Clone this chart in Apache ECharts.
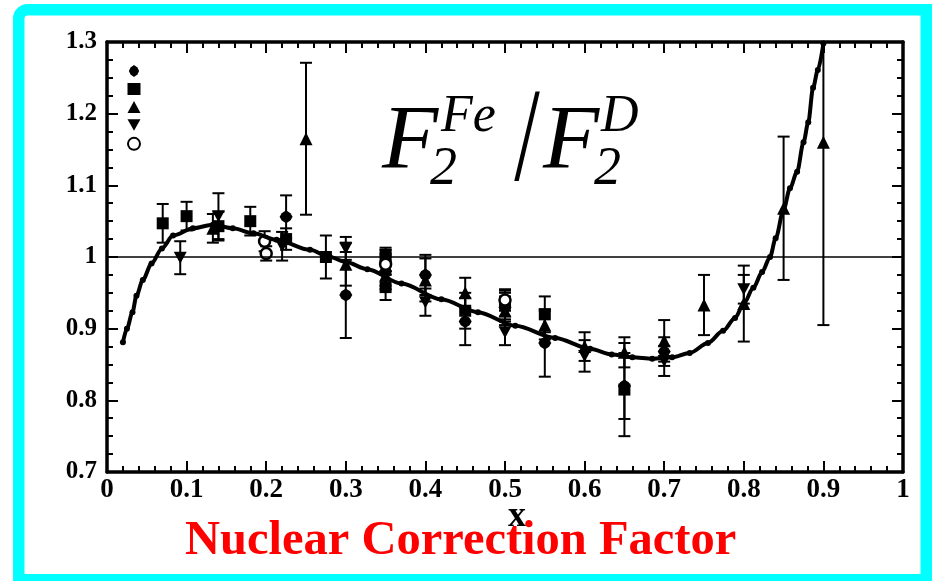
<!DOCTYPE html>
<html>
<head>
<meta charset="utf-8">
<title>Nuclear Correction Factor</title>
<script src="https://cdn.jsdelivr.net/npm/echarts@6/dist/echarts.min.js"></script>
<style>
  html, body { margin: 0; padding: 0; background: #ffffff; }
  #chart { width: 932px; height: 581px; }
</style>
</head>
<body>
<div id="chart"></div>
<script>
// Tick labels
const xTickLabels = ['0', '0.1', '0.2', '0.3', '0.4', '0.5', '0.6', '0.7', '0.8', '0.9', '1'];
const yTickLabels = ['0.7', '0.8', '0.9', '1', '1.1', '1.2', '1.3'];

// Fitted ratio curve F2(Fe)/F2(D) versus x
const curveX = [0.02, 0.025, 0.032, 0.037, 0.045, 0.056, 0.069, 0.083, 0.108, 0.133, 0.158, 0.184,
  0.213, 0.255, 0.28, 0.30, 0.327, 0.37, 0.42, 0.466, 0.513, 0.563, 0.607, 0.634, 0.66, 0.685,
  0.71, 0.732, 0.755, 0.774, 0.789, 0.80, 0.812, 0.823, 0.833, 0.84, 0.85, 0.858, 0.867, 0.875,
  0.881, 0.887, 0.893, 0.90];
const curveY = [0.881, 0.90, 0.923, 0.946, 0.968, 0.991, 1.012, 1.03, 1.04, 1.045, 1.04, 1.033,
  1.024, 1.01, 1.0, 0.993, 0.983, 0.963, 0.941, 0.923, 0.904, 0.887, 0.872, 0.864, 0.86, 0.858,
  0.86, 0.866, 0.88, 0.897, 0.915, 0.935, 0.957, 0.979, 1.0, 1.026, 1.066, 1.096, 1.119, 1.16,
  1.188, 1.236, 1.261, 1.298];

// Measurements: [x, ratio, error]
const circleData = [
  [0.225, 1.056, 0.03], [0.3, 0.947, 0.06], [0.35, 0.98, 0.02], [0.4, 0.975, 0.028],
  [0.45, 0.91, 0.033], [0.5, 0.93, 0.02], [0.55, 0.88, 0.047], [0.65, 0.82, 0.046],
  [0.7, 0.868, 0.02]
];
const squareData = [
  [0.07, 1.047, 0.027], [0.1, 1.057, 0.02], [0.14, 1.043, 0.02], [0.18, 1.05, 0.02],
  [0.225, 1.025, 0.015], [0.275, 1.0, 0.03], [0.35, 0.958, 0.018], [0.35, 1.003, 0.01],
  [0.45, 0.925, 0.025], [0.5, 0.935, 0.018], [0.55, 0.92, 0.025], [0.65, 0.815, 0.065]
];
const triangleData = [
  [0.133, 1.04, 0.02], [0.25, 1.165, 0.106], [0.3, 0.99, 0.03], [0.35, 0.975, 0.02],
  [0.4, 0.968, 0.03], [0.45, 0.95, 0.021], [0.5, 0.925, 0.02], [0.55, 0.905, 0.02],
  [0.6, 0.875, 0.02], [0.65, 0.867, 0.021], [0.7, 0.883, 0.029], [0.75, 0.933, 0.042],
  [0.8, 0.935, 0.053], [0.85, 1.068, 0.1], [0.9, 1.16, 0.255]
];
const downData = [
  [0.092, 0.999, 0.023], [0.14, 1.057, 0.032], [0.22, 1.015, 0.02], [0.3, 1.012, 0.016],
  [0.35, 0.995, 0.015], [0.4, 0.937, 0.019], [0.5, 0.895, 0.018], [0.6, 0.862, 0.022],
  [0.7, 0.855, 0.021], [0.8, 0.955, 0.02]
];
const openData = [
  [0.198, 1.022, 0.014], [0.2, 1.005, 0.01], [0.35, 0.99, 0.015], [0.5, 0.94, 0.015]
];

const seriesDefs = [
  { name: 'A', data: circleData, symbol: 'path://M6,0 L10,3 L12,7 L10,11 L6,14 L2,11 L0,7 L2,3 Z', size: [13, 13], open: false },
  { name: 'B', data: squareData, symbol: 'rect', size: 12, open: false },
  { name: 'C', data: triangleData, symbol: 'triangle', size: 13, open: false },
  { name: 'D', data: downData, symbol: 'path://M0,0 L10,0 L5,9 Z', size: [13, 12], open: false },
  { name: 'E', data: openData, symbol: 'circle', size: 11, open: true }
];

const serif = 'Liberation Serif, Times New Roman, serif';
const chart = echarts.init(document.getElementById('chart'), null, { renderer: 'canvas' });

function errorBarSeries(def) {
  return {
    type: 'custom',
    name: def.name + ' err',
    clip: true,
    silent: true,
    z: 3,
    data: def.data,
    renderItem: function (params, api) {
      const x = api.value(0), y = api.value(1), e = api.value(2);
      const hi = api.coord([x, y + e]);
      const lo = api.coord([x, y - e]);
      const hw = 6;
      const st = { stroke: '#000', lineWidth: 2 };
      return {
        type: 'group',
        children: [
          { type: 'line', shape: { x1: hi[0], y1: hi[1], x2: lo[0], y2: lo[1] }, style: st },
          { type: 'line', shape: { x1: hi[0] - hw, y1: hi[1], x2: hi[0] + hw, y2: hi[1] }, style: st },
          { type: 'line', shape: { x1: lo[0] - hw, y1: lo[1], x2: lo[0] + hw, y2: lo[1] }, style: st }
        ]
      };
    }
  };
}

function markerSeries(def) {
  return {
    type: 'scatter',
    name: def.name,
    z: 4,
    symbol: def.symbol,
    symbolSize: def.size,
    data: def.data.map(d => [d[0], d[1]]),
    itemStyle: def.open
      ? { color: '#fff', borderColor: '#000', borderWidth: 2.5, opacity: 1 }
      : { color: '#000', opacity: 1 }
  };
}

const axisCommon = {
  type: 'value',
  axisLine: { show: true, onZero: false, lineStyle: { color: '#000', width: 3.5 } },
  axisTick: { show: true, inside: true, length: 11, lineStyle: { color: '#000', width: 2 } },
  minorTick: { show: true, length: 6, lineStyle: { color: '#000', width: 2 } },
  splitLine: { show: false }
};

const option = {
  backgroundColor: '#ffffff',
  animation: false,
  grid: { left: 107, right: 29, top: 42, bottom: 109 },
  legend: {
    orient: 'vertical',
    left: 127,
    top: 65,
    itemWidth: 13,
    itemHeight: 12,
    itemGap: 6,
    padding: 0,
    selectedMode: false,
    data: seriesDefs.map(d => d.name),
    formatter: () => '',
    textStyle: { fontSize: 1 }
  },
  xAxis: [
    Object.assign({}, axisCommon, {
      min: 0, max: 1, interval: 0.1, position: 'bottom',
      minorTick: Object.assign({}, axisCommon.minorTick, { splitNumber: 5 }),
      axisLabel: {
        margin: 5, color: '#000', fontFamily: serif, fontWeight: 'bold', fontSize: 27,
        formatter: (v, i) => xTickLabels[i]
      }
    }),
    Object.assign({}, axisCommon, {
      min: 0, max: 1, interval: 0.1, position: 'top',
      minorTick: Object.assign({}, axisCommon.minorTick, { splitNumber: 5 }),
      axisLabel: { show: false }
    })
  ],
  yAxis: [
    Object.assign({}, axisCommon, {
      min: 0.7, max: 1.3, interval: 0.1, position: 'left',
      minorTick: Object.assign({}, axisCommon.minorTick, { splitNumber: 4 }),
      axisLabel: {
        margin: 10, color: '#000', fontFamily: serif, fontWeight: 'bold', fontSize: 25,
        formatter: (v, i) => yTickLabels[i]
      }
    }),
    Object.assign({}, axisCommon, {
      min: 0.7, max: 1.3, interval: 0.1, position: 'right',
      minorTick: Object.assign({}, axisCommon.minorTick, { splitNumber: 4 }),
      axisLabel: { show: false }
    })
  ],
  series: [
    {
      type: 'line',
      name: 'fit',
      z: 5,
      smooth: 0.3,
      smoothMonotone: 'x',
      symbol: 'circle',
      symbolSize: 6,
      showSymbol: true,
      clip: true,
      data: curveX.map((x, i) => [x, curveY[i]]),
      lineStyle: { color: '#000', width: 4 },
      itemStyle: { color: '#000' },
      markLine: {
        silent: true,
        symbol: 'none',
        label: { show: false },
        lineStyle: { color: '#000', width: 1.5, type: 'solid' },
        data: [{ yAxis: 1 }]
      }
    }
  ]
    .concat(seriesDefs.map(errorBarSeries))
    .concat(seriesDefs.map(markerSeries)),
  graphic: [
    // Frame around the figure
    {
      type: 'rect', z: 100, silent: true,
      shape: { x: 18.75, y: 9.75, width: 907.5, height: 570, r: [9, 0, 0, 0] },
      style: { fill: 'none', stroke: '#00ffff', lineWidth: 11.5 }
    },
    // F2^Fe / F2^D
    { type: 'text', z: 50, style: { text: 'F', x: 382, y: 144, font: 'italic 92px ' + serif, fill: '#000', verticalAlign: 'middle' } },
    { type: 'text', z: 50, style: { text: 'Fe', x: 441, y: 117, font: 'italic 52px ' + serif, fill: '#000', verticalAlign: 'middle' } },
    { type: 'text', z: 50, style: { text: '2', x: 430, y: 170, font: 'italic 54px ' + serif, fill: '#000', verticalAlign: 'middle' } },
    { type: 'text', z: 50, x: 527, y: 145, scaleY: 1.45, style: { text: '/', x: 0, y: 0, font: '92px ' + serif, fill: '#000', align: 'center', verticalAlign: 'middle' } },
    { type: 'text', z: 50, style: { text: 'F', x: 543, y: 144, font: 'italic 92px ' + serif, fill: '#000', verticalAlign: 'middle' } },
    { type: 'text', z: 50, style: { text: 'D', x: 601, y: 117, font: 'italic 52px ' + serif, fill: '#000', verticalAlign: 'middle' } },
    { type: 'text', z: 50, style: { text: '2', x: 594, y: 170, font: 'italic 54px ' + serif, fill: '#000', verticalAlign: 'middle' } },
    // axis name
    { type: 'text', z: 50, style: { text: 'x', x: 517, y: 517, font: 'bold 36px ' + serif, fill: '#000', align: 'center', verticalAlign: 'middle' } },
    // caption
    { type: 'text', z: 60, style: { text: 'Nuclear Correction Factor', x: 185, y: 541, font: 'bold 48.5px ' + serif, fill: '#ff0000', verticalAlign: 'middle' } }
  ]
};

chart.setOption(option);
</script>
</body>
</html>
